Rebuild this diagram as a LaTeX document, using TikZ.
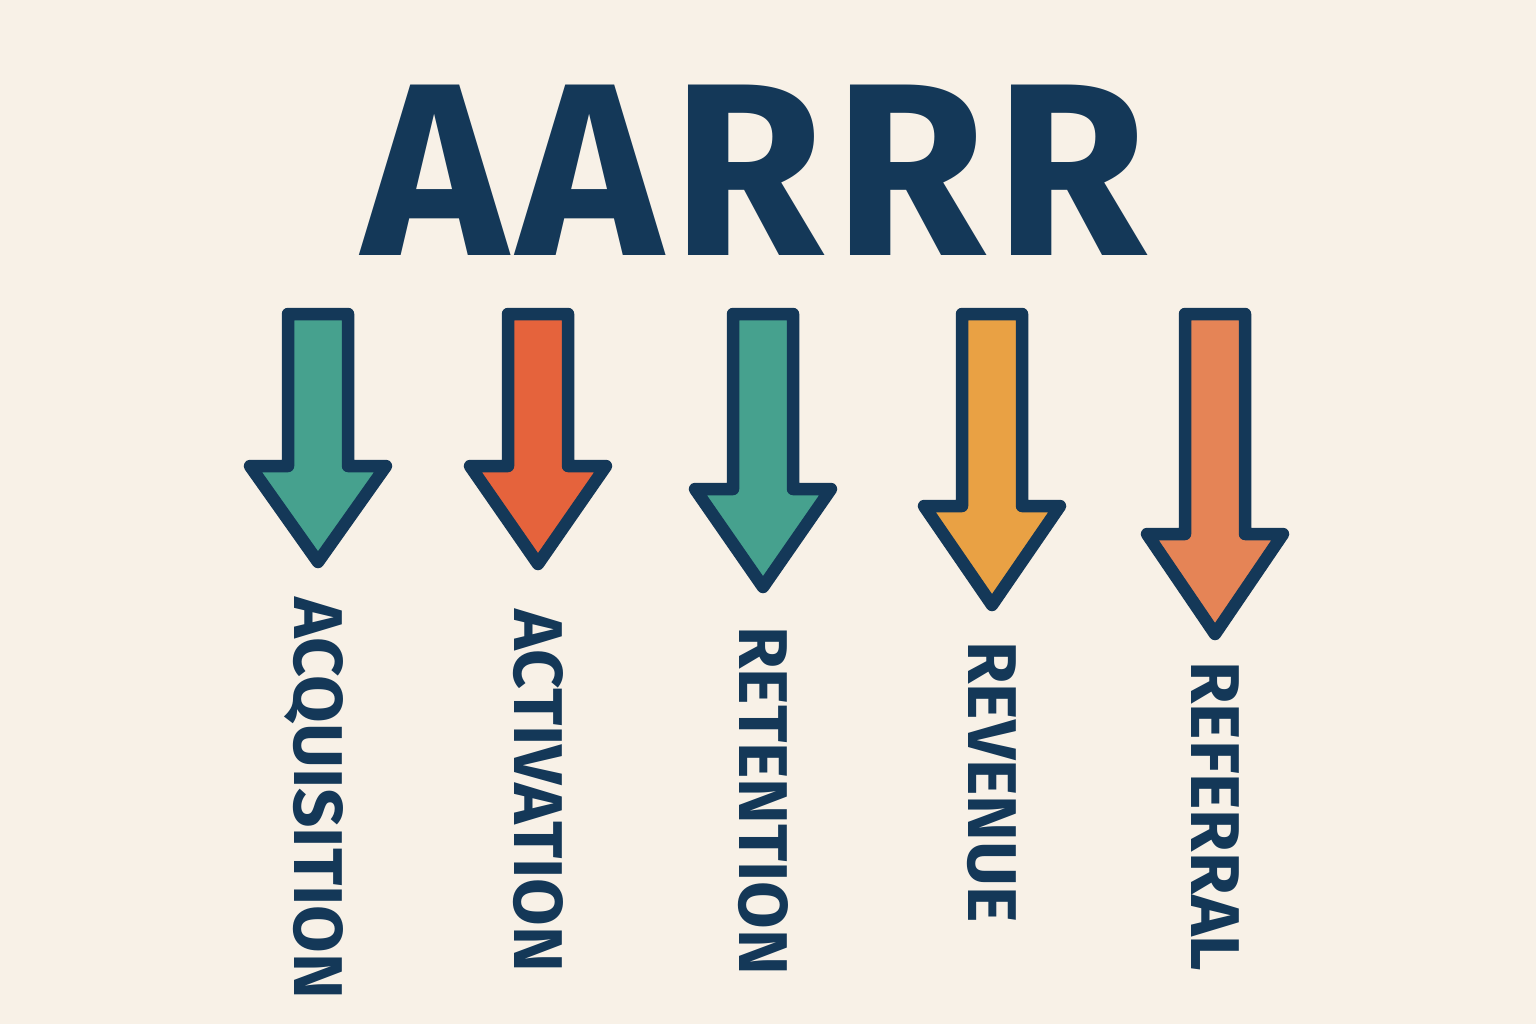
\documentclass[tikz,border=0pt]{standalone}
\usepackage{fontspec}
\setmainfont{Fira Sans}
\newfontfamily\titlefont[Kerning=Off,LetterSpace=4]{Fira Sans}
\usetikzlibrary{positioning}

\definecolor{paper}{RGB}{248,241,231}
\definecolor{ink}{RGB}{20,56,88}
\definecolor{arrteal}{RGB}{70,161,142}
\definecolor{arrred}{RGB}{229,99,60}
\definecolor{arrgold}{RGB}{233,161,68}
\definecolor{arrorange}{RGB}{229,132,86}

\tikzset{
  funnel/.style={draw=ink,line width=12.5pt,line join=round},
  stage/.style={text=ink,font=\fontsize{69}{69}\selectfont\bfseries,rotate=-90,
    anchor=west,inner sep=0pt,text height=48pt,text depth=0pt},
}

\begin{document}
\begin{tikzpicture}[x=1pt,y=-1pt]
\fill[paper] (0,0) rectangle (1536,1024);
\node[text=ink,font=\titlefont\fontsize{246}{246}\selectfont\bfseries,inner sep=0pt] (title) at (755,170) {AARRR};
% one arrow and one label per stage
\foreach \cx/\base/\tip/\ly/\col/\name/\txt in {
    318/466/562/597/arrteal/acq/ACQUISITION,
    538/466/564/609/arrred/act/ACTIVATION,
    763/489/587/626/arrteal/ret/RETENTION,
    992/506/605/641/arrgold/rev/REVENUE,
    1215/534/634/661/arrorange/ref/REFERRAL}{
  \draw[funnel,fill=\col] (\cx-30,314) -- (\cx+30,314) -- (\cx+30,\base) -- (\cx+68,\base)
    -- (\cx,\tip) -- (\cx-68,\base) -- (\cx-30,\base) -- cycle;
  \node[stage] (\name) at (\cx,\ly) {\txt};
}
\end{tikzpicture}
\end{document}
